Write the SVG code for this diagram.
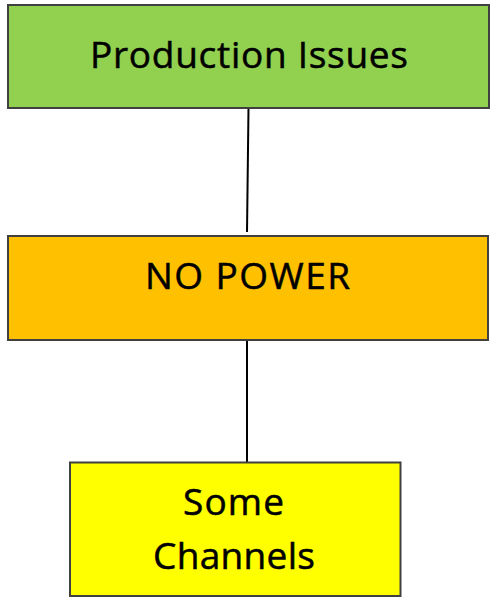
<svg xmlns="http://www.w3.org/2000/svg" width="496" height="603" viewBox="0 0 496 603">
<style>
.box{stroke:#404040;stroke-width:2}
.lbl{font-family:"Open Sans","Liberation Sans",sans-serif;font-size:37px;fill:#000;stroke:#000;stroke-width:0.5;text-anchor:middle}
.conn{stroke:#000;stroke-width:2;fill:none}
</style>
<rect width="496" height="603" fill="#fff"/>
<g id="connectors">
<line class="conn" x1="248.5" y1="108" x2="247" y2="232"/>
<line class="conn" x1="247" y1="340" x2="247" y2="465"/>
</g>
<g id="production-issues">
<rect class="box" x="8" y="5" width="481" height="103" fill="#92D050"/>
<text class="lbl" x="249" y="67.5" textLength="318" lengthAdjust="spacing">Production Issues</text>
</g>
<g id="no-power">
<rect class="box" x="8" y="236" width="480" height="104" fill="#FFC000"/>
<text class="lbl" x="247.5" y="288.5" textLength="205" lengthAdjust="spacing">NO POWER</text>
</g>
<g id="some-channels">
<rect class="box" x="70" y="462.5" width="330.5" height="133.5" fill="#FFFF00"/>
<text class="lbl" x="233.5" y="514.5" textLength="101" lengthAdjust="spacing">Some</text>
<text class="lbl" x="234" y="569" textLength="162" lengthAdjust="spacing">Channels</text>
</g>
</svg>
